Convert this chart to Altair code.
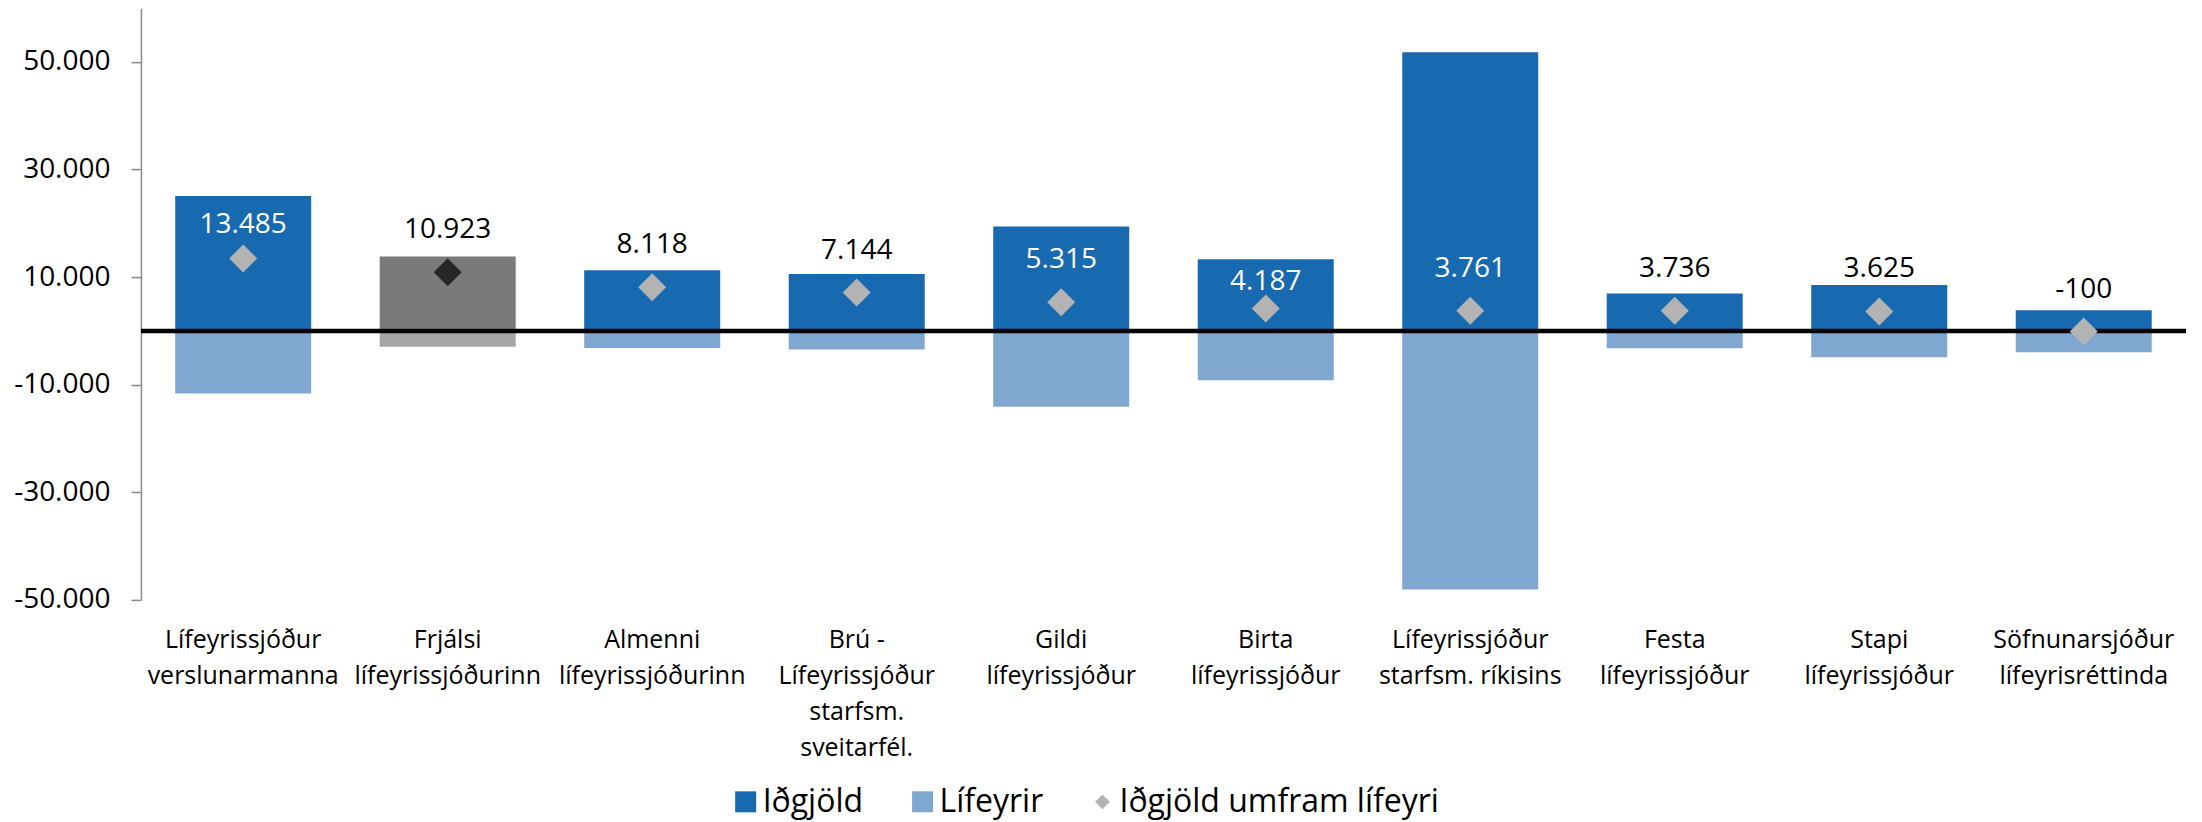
import altair as alt
import pandas as pd

# ---------------- data ----------------
categories = [
    "Lífeyrissjóður\nverslunarmanna",
    "Frjálsi\nlífeyrissjóðurinn",
    "Almenni\nlífeyrissjóðurinn",
    "Brú -\nLífeyrissjóður\nstarfsm.\nsveitarfél.",
    "Gildi\nlífeyrissjóður",
    "Birta\nlífeyrissjóður",
    "Lífeyrissjóður\nstarfsm. ríkisins",
    "Festa\nlífeyrissjóður",
    "Stapi\nlífeyrissjóður",
    "Söfnunarsjóður\nlífeyrisréttinda",
]
idgjold = [25100, 13860, 11270, 10600, 19400, 13330, 51830, 6950, 8530, 3850]
lifeyrir = [-11615, -2937, -3152, -3456, -14085, -9143, -48069, -3214, -4905, -3950]
umfram = [13485, 10923, 8118, 7144, 5315, 4187, 3761, 3736, 3625, -100]
series_names = ["Iðgjöld", "Lífeyrir", "Iðgjöld umfram lífeyri"]
grey_funds = ["Frjálsi\nlífeyrissjóðurinn"]
y_ticks = [-50000, -30000, -10000, 10000, 30000, 50000]

# ---------------- tables ----------------
bars_rows = []
for c, a, b in zip(categories, idgjold, lifeyrir):
    bars_rows.append({"cat": c, "series": series_names[0], "value": a, "grey": c in grey_funds})
    bars_rows.append({"cat": c, "series": series_names[1], "value": b, "grey": c in grey_funds})
bars_df = pd.DataFrame(bars_rows)

net_df = pd.DataFrame({
    "cat": categories,
    "series": series_names[2],
    "net": umfram,
    "grey": [c in grey_funds for c in categories],
    # label drawn in white where it sits inside the tall dark bar
    "inside": [(a - n) > 8000 for a, n in zip(idgjold, umfram)],
})
zero_df = pd.DataFrame({"z": [0]})

FONT = "Open Sans"
DARK = "#1769b0"
LIGHT = "#80a7cf"
DIAM = "#b3b3b3"

color_scale = alt.Scale(domain=series_names, range=[DARK, LIGHT, DIAM])
shape_scale = alt.Scale(
    domain=series_names,
    range=["M-1,-1H1V1H-1Z", "M-1,-1H1V1H-1Z", "M-0.7,0L0,-0.7L0.7,0L0,0.7Z"],
)
legend = alt.Legend(
    title=None, orient="none", legendX=589, legendY=778, direction="horizontal",
    labelFont=FONT, labelFontSize=32, labelColor="black", symbolSize=441,
    labelOffset=1, columnPadding=43, symbolStrokeWidth=0, symbolOpacity=1,
    padding=0, labelLimit=0,
)

x_enc = alt.X(
    "cat:N", sort=categories,
    scale=alt.Scale(paddingInner=0.335, paddingOuter=0.1675),
    axis=alt.Axis(
        title=None, labelAngle=0, labelExpr="split(datum.label, '\\n')",
        domain=False, ticks=False, labelFont=FONT, labelFontSize=25,
        labelColor="black", labelLineHeight=36, labelBaseline="alphabetic",
        labelPadding=48, labelLimit=0,
    ),
)
y_scale = alt.Scale(domain=[-50000, 60000], nice=False, zero=False)
y_axis = alt.Axis(
    title=None, values=y_ticks, grid=False,
    labelExpr="replace(replace(format(datum.value, ','), ',', '.'), '\u2212', '-')",
    domainColor="#8a8a8a", domainWidth=1.5, tickColor="#8a8a8a", tickWidth=1.5,
    tickSize=10, labelFont=FONT, labelFontSize=28, labelColor="black",
    labelPadding=21,
)

bars = alt.Chart(bars_df).mark_bar().encode(
    x=x_enc,
    y=alt.Y("value:Q", scale=y_scale, axis=y_axis, stack=None),
    color=alt.Color(
        "series:N", scale=color_scale, legend=legend,
        condition=[
            {"test": "datum.grey && datum.value >= 0", "value": "#7a7a7a"},
            {"test": "datum.grey && datum.value < 0", "value": "#a6a6a6"},
        ],
    ),
)

zero_rule = alt.Chart(zero_df).mark_rule(color="black", strokeWidth=4.5).encode(
    y=alt.Y("z:Q", scale=y_scale)
)

points = alt.Chart(net_df).mark_point(filled=True, opacity=1, size=1600, strokeWidth=0).encode(
    x=alt.X("cat:N", sort=categories),
    y=alt.Y("net:Q", scale=y_scale),
    color=alt.Color(
        "series:N", scale=color_scale, legend=legend,
        condition={"test": "datum.grey", "value": "#262626"},
    ),
    shape=alt.Shape("series:N", scale=shape_scale, legend=legend),
)

label_calc = "replace(replace(format(datum.net, ','), ',', '.'), '\u2212', '-')"


def label_layer(filter_expr, dy):
    return alt.Chart(net_df).transform_filter(filter_expr).transform_calculate(
        label=label_calc
    ).mark_text(font=FONT, fontSize=28, baseline="alphabetic", dy=dy).encode(
        x=alt.X("cat:N", sort=categories),
        y=alt.Y("net:Q", scale=y_scale),
        text="label:N",
        color=alt.condition("datum.inside", alt.value("white"), alt.value("black")),
    )


c_first = categories[0]
c_birta = categories[5]
labels_std = label_layer(
    alt.FieldOneOfPredicate(field="cat", oneOf=[c for c in categories if c not in (c_first, c_birta)]),
    -34,
)
labels_first = label_layer(alt.FieldEqualPredicate(field="cat", equal=c_first), -25)
labels_birta = label_layer(alt.FieldEqualPredicate(field="cat", equal=c_birta), -18)

chart = alt.layer(
    bars, zero_rule, points, labels_std, labels_first, labels_birta
).properties(
    width=2046, height=592,
    padding={"left": 5, "top": 0, "right": 5, "bottom": 2},
    background="white",
).configure_view(stroke=None)

chart.save("out.html", embed_options={"renderer": "svg", "actions": False})
